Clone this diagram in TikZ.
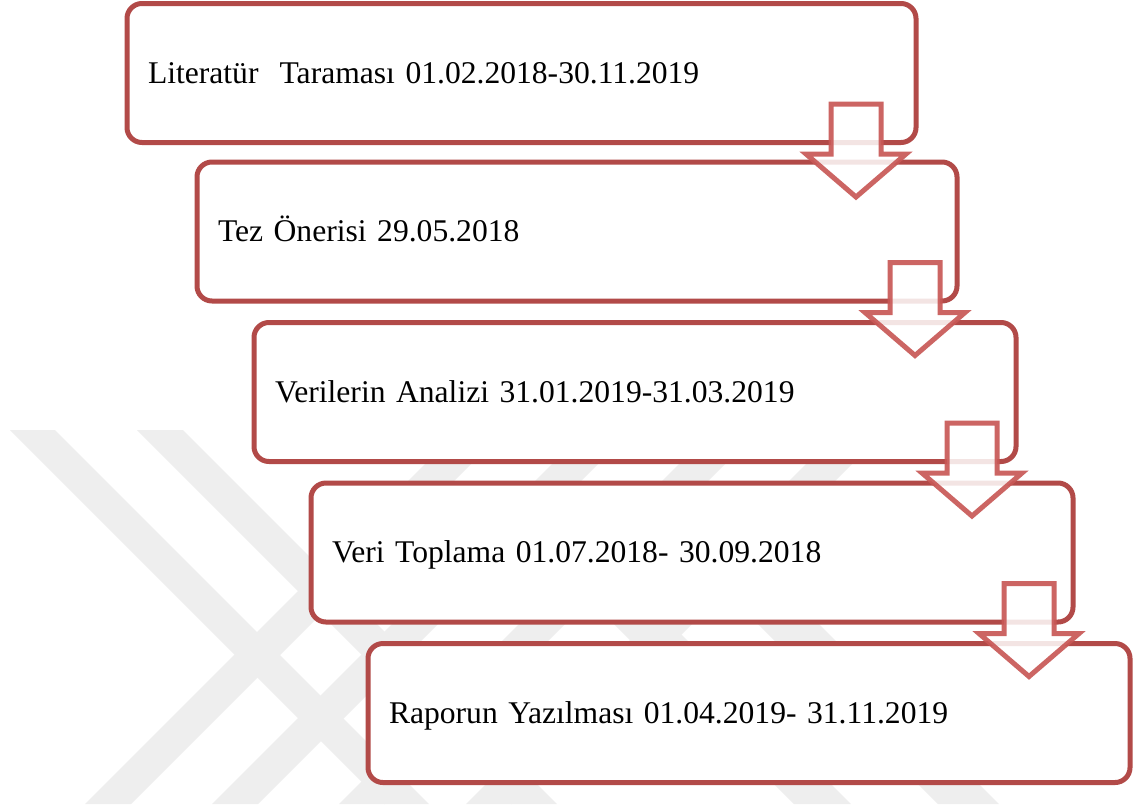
\documentclass[tikz,border=0pt]{standalone}
\usepackage{fontspec}
\setmainfont{Liberation Serif}
\usetikzlibrary{calc}
\definecolor{boxred}{RGB}{178,74,72}
\definecolor{arrred}{RGB}{200,88,86}
\definecolor{wmgrey}{RGB}{238,238,238}
\newcommand{\stagearrow}[2]{%
  \draw[flowarrow] let \p1=(#2.east), \p2=(#1.south) in
    (\x1-126,\y2+38.5) -- (\x1-76,\y2+38.5) -- (\x1-76,\y2-11.5) -- (\x1-51,\y2-11.5)
    -- (\x1-101,\y2-54.5) -- (\x1-151,\y2-11.5) -- (\x1-126,\y2-11.5) -- cycle;}
\begin{document}
\begin{tikzpicture}[x=1pt,y=1pt,
  stage/.style={draw=boxred, line width=5pt, rounded corners=15pt, fill=white,
    minimum height=139pt, inner xsep=21pt, inner ysep=0pt, outer sep=0pt,
    text height=24pt, text depth=4pt, align=left, anchor=west,
    font=\fontsize{31.6}{38}\selectfont},
  flowarrow/.style={draw=arrred, line width=5pt, fill=white, fill opacity=0.85,
    draw opacity=0.92, line join=miter},
  wmband/.style={fill=wmgrey}]
\useasboundingbox (0,0) rectangle (1134,-804);
\fill[white] (0,0) rectangle (1134,-804);
% faint watermark
\begin{scope}
  \clip (0,-430) rectangle (1134,-804);
  % bands falling to the right
  \fill[wmband] (10,-430) -- (55,-430) -- (429,-804) -- (384,-804) -- cycle;
  \fill[wmband] (137,-430) -- (183,-430) -- (557,-804) -- (511,-804) -- cycle;
  % bands rising to the right
  \foreach \k in {0,1,2,3} {
    \fill[wmband] (85+127*\k,-804) -- (131+127*\k,-804) -- (505+127*\k,-430) -- (459+127*\k,-430) -- cycle;
  }
  % right-hand bands
  \fill[wmband] (590,-600) -- (647,-600) -- (851,-804) -- (794,-804) -- cycle;
  \fill[wmband] (734,-600) -- (795,-600) -- (999,-804) -- (938,-804) -- cycle;
\end{scope}
% stages
\node[stage, text width=747pt] (b1) at (127,-73) {Literatür\ \ Taraması 01.02.2018-30.11.2019};
\node[stage, text width=718pt] (b2) at (197,-231.5) {Tez Önerisi 29.05.2018};
\node[stage, text width=720pt] (b3) at (254,-392) {Verilerin Analizi 31.01.2019-31.03.2019};
\node[stage, text width=720pt] (b4) at (311,-552.5) {Veri Toplama 01.07.2018- 30.09.2018};
\node[stage, text width=720pt] (b5) at (368,-713) {Raporun Yazılması 01.04.2019- 31.11.2019};
% block arrows
\stagearrow{b1}{b2}
\stagearrow{b2}{b3}
\stagearrow{b3}{b4}
\stagearrow{b4}{b5}
\end{tikzpicture}
\end{document}
